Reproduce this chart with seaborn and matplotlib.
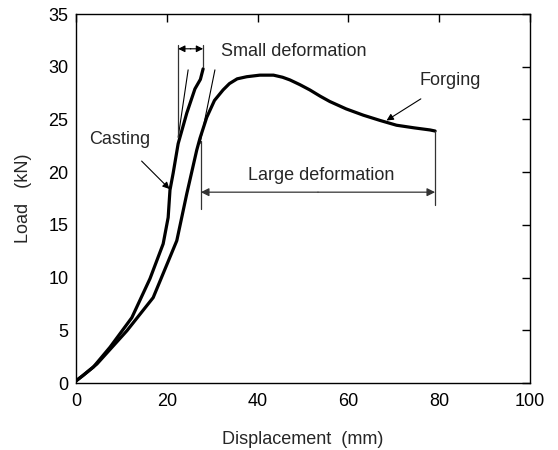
import matplotlib
matplotlib.use("Agg")
import matplotlib.pyplot as plt
import seaborn as sns
import pandas as pd

# Casting curve (displacement mm, load kN)
casting_x = [0.0, 1.5, 3.8, 7.5, 12.3, 16.3, 19.2, 20.3, 20.7, 21.4, 22.5, 24.4, 26.2, 27.4, 28.0]
casting_y = [0.2, 0.7, 1.5, 3.4, 6.2, 9.9, 13.2, 15.7, 18.3, 19.9, 22.7, 25.6, 27.9, 28.8, 29.8]

# Forging curve
forging_x = [0.0, 1.5, 4.6, 11.2, 17.0, 22.2, 24.4, 26.6, 27.3, 28.8, 30.5, 32.4, 33.8, 35.5, 37.6, 40.5,
             43.5, 45.5, 47.1, 49.3, 51.5, 53.8, 55.9, 59.5, 63.3, 67.0, 70.6, 74.5, 78.0, 79.1]
forging_y = [0.2, 0.7, 1.8, 4.95, 8.1, 13.5, 17.95, 22.1, 23.2, 25.2, 26.8, 27.8, 28.4, 28.85, 29.05, 29.2,
             29.2, 29.0, 28.75, 28.3, 27.8, 27.2, 26.7, 26.0, 25.4, 24.9, 24.45, 24.2, 24.0, 23.9]

x_ticks = [0, 20, 40, 60, 80, 100]
y_ticks = [0, 5, 10, 15, 20, 25, 30, 35]

sns.set_theme(style="white")
plt.rcParams['font.family'] = ['Liberation Sans', 'DejaVu Sans']

FS = 13

fig = plt.figure(figsize=(5.58, 4.5), dpi=100)
ax = fig.add_axes([76/558, 1-383/450, (530-76)/558, (383-14)/450])

df_c = pd.DataFrame({"x": casting_x, "y": casting_y})
df_f = pd.DataFrame({"x": forging_x, "y": forging_y})
sns.lineplot(data=df_c, x="x", y="y", sort=False, ax=ax, color="black", lw=2.3)
sns.lineplot(data=df_f, x="x", y="y", sort=False, ax=ax, color="black", lw=2.3)

thin = dict(color="black", lw=0.8)
# Tangent lines
ax.plot([22.5, 24.7], [23.3, 29.7], **thin)
ax.plot([27.3, 30.6], [22.7, 29.7], **thin)

# Small deformation markers
ax.plot([22.5, 22.5], [23.3, 32.1], color="#333333", lw=0.9)
ax.plot([28.0, 28.0], [30.0, 32.1], color="#333333", lw=0.9)
ax.annotate("", xy=(22.5, 31.7), xytext=(25.3, 31.7),
            arrowprops=dict(arrowstyle="-|>", color="black", lw=0.8, mutation_scale=10, shrinkA=0, shrinkB=0))
ax.annotate("", xy=(28.0, 31.7), xytext=(25.2, 31.7),
            arrowprops=dict(arrowstyle="-|>", color="black", lw=0.8, mutation_scale=10, shrinkA=0, shrinkB=0))
ax.text(32.0, 31.4, "Small deformation", fontsize=FS, ha="left", va="center")

# Large deformation markers
ax.plot([27.5, 27.5], [16.5, 23.0], color="#333333", lw=0.9)
ax.plot([79.1, 79.1], [16.9, 23.9], color="#333333", lw=0.9)
ax.annotate("", xy=(27.5, 18.1), xytext=(53.3, 18.1),
            arrowprops=dict(arrowstyle="-|>", color="#333333", lw=0.9, mutation_scale=12, shrinkA=0, shrinkB=0))
ax.annotate("", xy=(79.1, 18.1), xytext=(53.3, 18.1),
            arrowprops=dict(arrowstyle="-|>", color="#333333", lw=0.9, mutation_scale=12, shrinkA=0, shrinkB=0))
ax.text(53.9, 19.7, "Large deformation", fontsize=FS, ha="center", va="center")

# Labels with arrows
ax.annotate("Casting", xy=(20.6, 18.4), xytext=(9.7, 23.1), fontsize=FS, ha="center", va="center",
            arrowprops=dict(arrowstyle="-|>", color="black", lw=0.8, mutation_scale=10,
                            shrinkA=10, shrinkB=0))
ax.annotate("Forging", xy=(68.4, 24.9), xytext=(82.4, 28.7), fontsize=FS, ha="center", va="center",
            arrowprops=dict(arrowstyle="-|>", color="black", lw=0.8, mutation_scale=10,
                            shrinkA=9, shrinkB=0))

ax.set_xlim(0, 100)
ax.set_ylim(0, 35)
ax.set_xticks(x_ticks)
ax.set_yticks(y_ticks)
ax.tick_params(direction="in", length=6, width=1, top=True, right=True, labelsize=FS, colors="black")
ax.tick_params(axis="x", pad=7)
ax.tick_params(axis="y", pad=5.5)
for s in ax.spines.values():
    s.set_color("black")
    s.set_linewidth(1.0)
ax.set_xlabel("Displacement  (mm)", fontsize=FS, labelpad=15)
ax.set_ylabel("Load   (kN)", fontsize=FS, labelpad=12)

fig.savefig("out.png", dpi=100)
